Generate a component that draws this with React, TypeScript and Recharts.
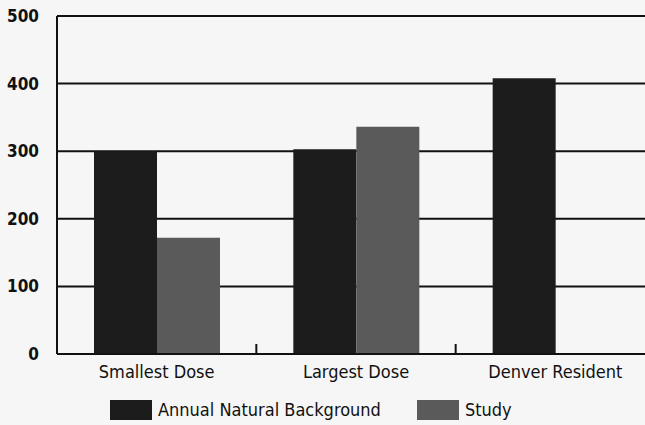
import React from "react"
import { BarChart, Bar, XAxis, YAxis, CartesianGrid } from "recharts"

const categories = ["Smallest Dose", "Largest Dose", "Denver Resident"]
const annualBackground = [300, 303, 408]
const study: (number | null)[] = [172, 336, null]
const yTicks = [0, 100, 200, 300, 400, 500]

const data = categories.map((name, i) => ({
  name,
  annual: annualBackground[i],
  study: study[i],
}))

const FONT = '"DejaVu Sans Condensed", "Liberation Sans", sans-serif'
const DARK = "#1c1c1c"
const MID = "#5a5a5a"

function XTick(props: any) {
  const { x, y, payload, index, width, visibleTicksCount } = props
  const band = width / visibleTicksCount
  return (
    <g>
      {index < visibleTicksCount - 1 && (
        <line x1={x + band / 2} x2={x + band / 2} y1={y - 8} y2={y - 18} stroke="#111" strokeWidth={2} />
      )}
      <text x={x} y={y + 16} textAnchor="middle" fontFamily={FONT} fontSize={18} fill="#111">
        {payload.value}
      </text>
    </g>
  )
}

// legend drawn as plain html under the plot
function ChartLegend() {
  const items = [
    { label: "Annual Natural Background", color: DARK, gap: 36 },
    { label: "Study", color: MID, gap: 0 },
  ]
  return (
    <div
      style={{
        position: "absolute",
        left: 110,
        top: 399,
        display: "flex",
        alignItems: "center",
        fontFamily: FONT,
        fontSize: 18,
        color: "#111",
      }}
    >
      {items.map((it) => (
        <div key={it.label} style={{ display: "flex", alignItems: "center", marginRight: it.gap }}>
          <div style={{ width: 42, height: 20, background: it.color, marginRight: 6 }} />
          <span>{it.label}</span>
        </div>
      ))}
    </div>
  )
}

export default function App() {
  return (
    <div
      style={{
        position: "absolute",
        left: 0,
        top: 0,
        width: 645,
        height: 425,
        overflow: "hidden",
        background: "#f6f6f6",
      }}
    >
      <BarChart
        width={662}
        height={425}
        data={data}
        margin={{ top: 16, right: 7, left: 0, bottom: 41 }}
        barCategoryGap={37}
        barGap={0}
      >
        <CartesianGrid vertical={false} stroke="#111" strokeWidth={2} />
        <XAxis
          dataKey="name"
          axisLine={{ stroke: "#111", strokeWidth: 2 }}
          tickLine={false}
          tick={<XTick />}
          interval={0}
          height={30}
        />
        <YAxis
          width={57}
          domain={[0, 500]}
          ticks={yTicks}
          axisLine={{ stroke: "#111", strokeWidth: 2 }}
          tickLine={false}
          tick={{ fill: "#111", fontFamily: FONT, fontSize: 17, fontWeight: "bold" }}
          tickMargin={12}
        />
        <Bar dataKey="annual" name="Annual Natural Background" fill={DARK} isAnimationActive={false} />
        <Bar dataKey="study" name="Study" fill={MID} isAnimationActive={false} />
      </BarChart>
      <ChartLegend />
    </div>
  )
}
